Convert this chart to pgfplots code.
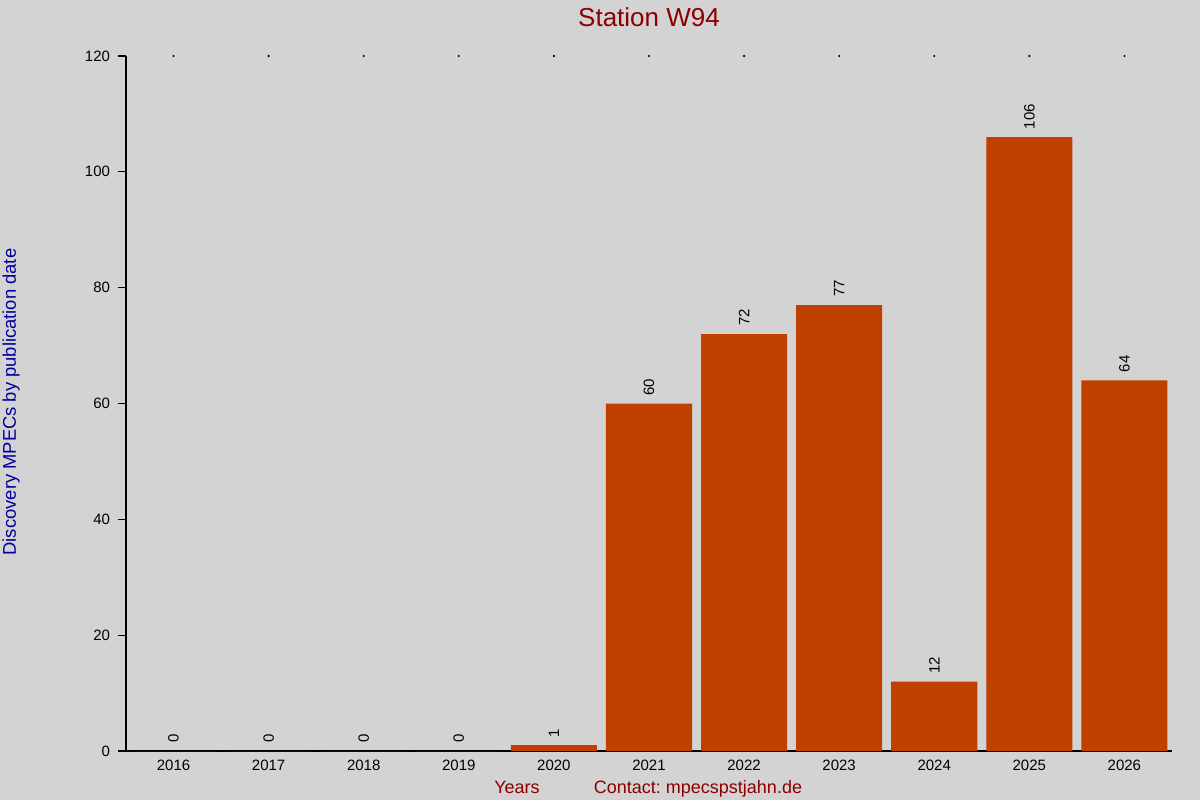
\documentclass[border=0pt]{standalone}
\usepackage{fontspec}
\setmainfont{Liberation Sans}
\usepackage{pgfplots}
\pgfplotsset{compat=1.18}
\definecolor{bg}{HTML}{D3D3D3}
\definecolor{barc}{HTML}{C04000}
\definecolor{ttl}{HTML}{8B0000}
\definecolor{ylab}{HTML}{00009C}
\frenchspacing
\begin{document}
\begin{tikzpicture}[x=1pt,y=1pt]
\fill[bg] (0,0) rectangle (600,400);
\useasboundingbox (0,0) rectangle (600,400);
\begin{axis}[
  at={(63pt,24.5pt)}, anchor=south west,
  scale only axis, width=523pt, height=347.5pt,
  xmin=2015.5, xmax=2026.5, ymin=0, ymax=120,
  axis x line*=bottom, axis y line*=left,
  axis line style={black, line width=0.6pt},
  xtick={2016,...,2026},
  xticklabel style={font=\fontsize{7.5}{9}\selectfont, yshift=3pt},
  x tick style={draw=none},
  ytick={0,20,...,120},
  yticklabel style={font=\fontsize{7.5}{9}\selectfont, xshift=-0.5pt},
  y tick style={black, line width=0.6pt},
  tick align=outside, major tick length=4pt,
  /pgf/number format/assume math mode=true,
  /pgf/number format/1000 sep={},
  ybar, bar width=0.905,
  clip=false,
  nodes near coords,
  every node near coord/.append style={rotate=90, anchor=west, black, font=\fontsize{7.5}{9}\selectfont, xshift=0.5pt},
]
% discovery MPECs per year
\addplot[fill=barc, draw=none] coordinates {
  (2016,0) (2017,0) (2018,0) (2019,0) (2020,1) (2021,60)
  (2022,72) (2023,77) (2024,12) (2025,106) (2026,64)};
% tiny tick dots along the top edge
\addplot[ybar=0pt, only marks, mark=*, mark size=0.3pt, black, nodes near coords=] coordinates {
  (2016,120) (2017,120) (2018,120) (2019,120) (2020,120) (2021,120)
  (2022,120) (2023,120) (2024,120) (2025,120) (2026,120)};
\end{axis}
\node[ttl, font=\fontsize{13}{15}\selectfont] at (324.5,391.5) {Station W94};
\node[ylab, font=\fontsize{9.2}{11}\selectfont, rotate=90] at (5.5,199) {Discovery MPECs by publication date};
\node[ttl, font=\fontsize{9}{11}\selectfont, anchor=base, inner sep=0pt] at (258.5,3.5) {Years};
\node[ttl, font=\fontsize{9}{11}\selectfont, anchor=base, inner sep=0pt] at (349,3.5) {Contact: mpecspstjahn.de};
\end{tikzpicture}
\end{document}
